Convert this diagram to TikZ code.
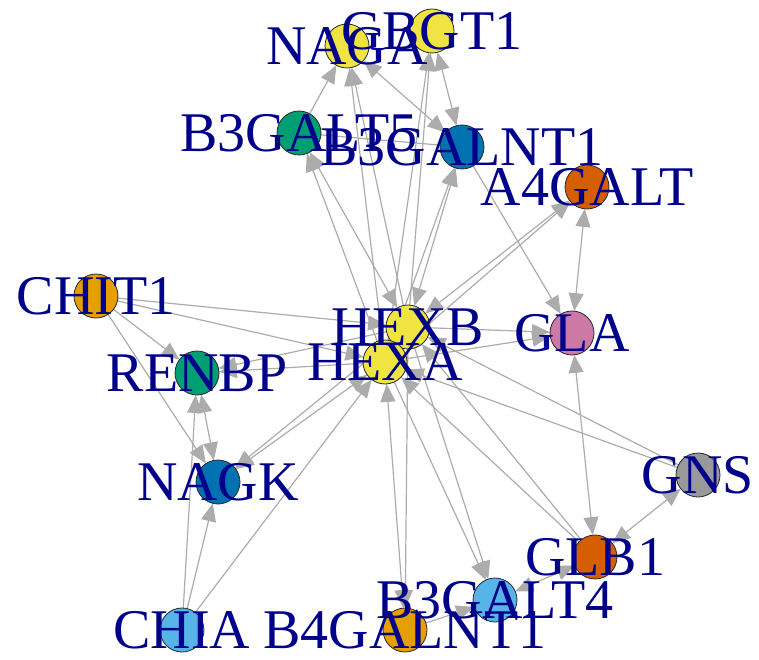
\documentclass[tikz,border=0pt]{standalone}
\usepackage{fontspec}
\setmainfont{Liberation Serif}
\usetikzlibrary{arrows.meta,backgrounds}
\definecolor{egray}{RGB}{172,172,172}
\definecolor{lblue}{RGB}{0,0,139}
\definecolor{cyel}{HTML}{F0E442}
\definecolor{cgreen}{HTML}{009E73}
\definecolor{cblue}{HTML}{0072B2}
\definecolor{cverm}{HTML}{D55E00}
\definecolor{cpink}{HTML}{CC79A7}
\definecolor{corange}{HTML}{E69F00}
\definecolor{csky}{HTML}{56B4E9}
\definecolor{cgrey}{HTML}{999999}
\definecolor{cborder}{RGB}{40,40,40}
\begin{document}
\begin{tikzpicture}[x=1pt,y=-1pt,
  vert/.style={circle,draw=cborder,line width=0.8pt,minimum size=44pt,inner sep=0pt,outer sep=0pt},
  lab/.style={text=lblue,font=\fontsize{56}{56}\selectfont,inner sep=0pt},
  ed/.style={draw=egray,line width=1.2pt},
  to/.style={ed,-{Triangle[length=18pt,width=15pt]}},
  bi/.style={ed,{Triangle[length=18pt,width=15pt]}-{Triangle[length=18pt,width=15pt]}}]
\useasboundingbox (0,0) rectangle (759,660);
% vertices
\node[vert,fill=cyel] (NAGA) at (347,46) {};
\node[vert,fill=cyel] (GBGT1) at (432,31) {};
\node[vert,fill=cgreen] (B3GALT5) at (299,133) {};
\node[vert,fill=cblue] (B3GALNT1) at (462,147) {};
\node[vert,fill=cverm] (A4GALT) at (587,187) {};
\node[vert,fill=corange] (CHIT1) at (96,296) {};
\node[vert,fill=cyel] (HEXB) at (408,327) {};
\node[vert,fill=cpink] (GLA) at (572,333) {};
\node[vert,fill=cgreen] (RENBP) at (197,373) {};
\node[vert,fill=cyel] (HEXA) at (385,362) {};
\node[vert,fill=cblue] (NAGK) at (218,482) {};
\node[vert,fill=cgrey] (GNS) at (698,475) {};
\node[vert,fill=cverm] (GLB1) at (595,557) {};
\node[vert,fill=csky] (B3GALT4) at (495,600) {};
\node[vert,fill=csky] (CHIA) at (182,630) {};
\node[vert,fill=corange] (B4GALNT1) at (405,630) {};
% edges
\begin{scope}[on background layer]
\draw[to] (B3GALT5) -- (NAGA);
\draw[bi] (NAGA) -- (B3GALNT1);
\draw[bi] (GBGT1) -- (B3GALNT1);
\draw[ed] (B3GALT5) -- (B3GALNT1);
\draw[to] (HEXB) -- (NAGA);
\draw[to] (HEXA) -- (NAGA);
\draw[to] (HEXB) -- (GBGT1);
\draw[to] (HEXA) -- (GBGT1);
\draw[bi] (B3GALT5) -- (HEXB);
\draw[to] (HEXA) -- (B3GALT5);
\draw[bi] (B3GALNT1) -- (HEXB);
\draw[bi] (B3GALNT1) -- (HEXA);
\draw[to] (B3GALNT1) -- (GLA);
\draw[bi] (A4GALT) -- (HEXB);
\draw[to] (HEXA) -- (A4GALT);
\draw[bi] (A4GALT) -- (GLA);
\draw[to] (HEXB) -- (GLA);
\draw[to] (HEXA) -- (GLA);
\draw[bi] (GLA) -- (GLB1);
\draw[to] (GNS) -- (HEXB);
\draw[to] (GNS) -- (HEXA);
\draw[bi] (GNS) -- (GLB1);
\draw[to] (GLB1) -- (HEXB);
\draw[to] (GLB1) -- (HEXA);
\draw[bi] (GLB1) -- (B3GALT4);
\draw[to] (HEXA) -- (B3GALT4);
\draw[to] (HEXB) -- (B3GALT4);
\draw[bi] (B4GALNT1) -- (HEXA);
\draw[to] (HEXB) -- (B4GALNT1);
\draw[to] (B4GALNT1) -- (B3GALT4);
\draw[to] (CHIA) -- (NAGK);
\draw[to] (CHIA) -- (RENBP);
\draw[to] (CHIA) -- (HEXA);
\draw[bi] (HEXA) -- (NAGK);
\draw[to] (HEXB) -- (NAGK);
\draw[bi] (RENBP) -- (NAGK);
\draw[to] (HEXA) -- (RENBP);
\draw[to] (HEXB) -- (RENBP);
\draw[to] (CHIT1) -- (RENBP);
\draw[to] (CHIT1) -- (NAGK);
\draw[to] (CHIT1) -- (HEXB);
\draw[to] (CHIT1) -- (HEXA);
\end{scope}
% labels
\node[lab] (tNAGA) at (NAGA) {NAGA};
\node[lab] (tGBGT1) at (GBGT1) {GBGT1};
\node[lab] (tB3GALT5) at (B3GALT5) {B3GALT5};
\node[lab] (tB3GALNT1) at (B3GALNT1) {B3GALNT1};
\node[lab] (tA4GALT) at (A4GALT) {A4GALT};
\node[lab] (tCHIT1) at (CHIT1) {CHIT1};
\node[lab] (tHEXB) at (HEXB) {HEXB};
\node[lab] (tGLA) at (GLA) {GLA};
\node[lab] (tRENBP) at (RENBP) {RENBP};
\node[lab] (tHEXA) at (HEXA) {HEXA};
\node[lab] (tNAGK) at (NAGK) {NAGK};
\node[lab] (tGNS) at (GNS) {GNS};
\node[lab] (tGLB1) at (GLB1) {GLB1};
\node[lab] (tB3GALT4) at (B3GALT4) {B3GALT4};
\node[lab] (tCHIA) at (CHIA) {CHIA};
\node[lab] (tB4GALNT1) at (B4GALNT1) {B4GALNT1};
\end{tikzpicture}
\end{document}
